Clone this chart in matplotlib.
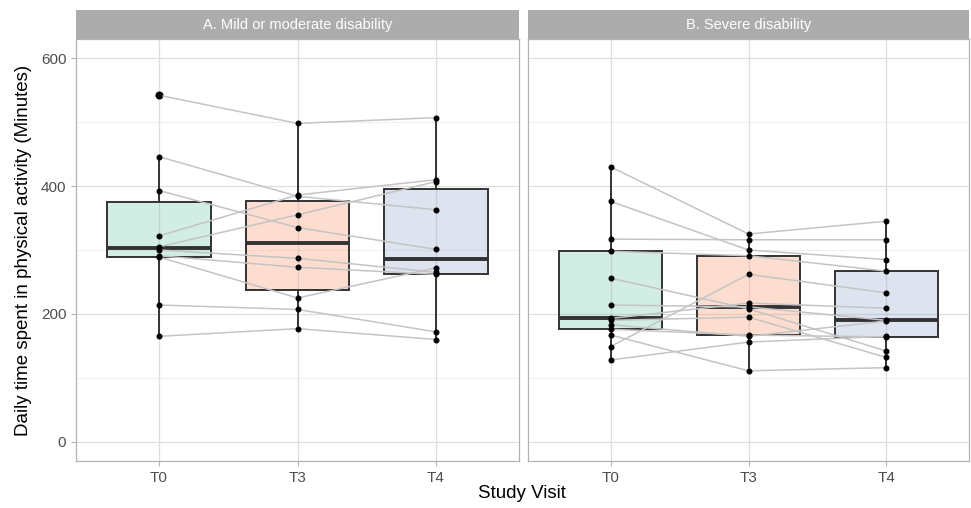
import numpy as np
import matplotlib
matplotlib.use('Agg')
from matplotlib import pyplot as plt
from matplotlib.patches import Rectangle

plt.rcParams['font.family'] = ['Liberation Sans', 'DejaVu Sans']

VISITS = ['T0', 'T3', 'T4']
PANELS = ['A. Mild or moderate disability', 'B. Severe disability']

# one row per subject: minutes at T0, T3, T4
MILD_T0 = [542, 446, 393, 322, 305, 300, 291, 289, 214, 165]
MILD_T3 = [498, 384, 335, 386, 355, 287, 273, 225, 207, 177]
MILD_T4 = [507, 363, 301, 410, 407, 265, 262, 272, 172, 160]

SEVERE_T0 = [430, 376, 317, 298, 256, 214, 193, 190, 183, 176, 167, 149, 128]
SEVERE_T3 = [325, 300, 316, 291, 208, 211, 217, 195, 165, 167, 111, 262, 156]
SEVERE_T4 = [345, 285, 316, 267, 142, 190, 209, 132, 189, 164, 116, 233, 165]

BOX_COLOURS = ['#66c2a5', '#fc8d62', '#8da0cb']
DARK = '#333333'


def draw_panel(ax, visits_data, title, show_y):
    pos = np.arange(1, len(VISITS) + 1)
    data = [np.array(v, dtype=float) for v in visits_data]

    # grid first
    for y in [100, 300, 500]:
        ax.axhline(y, color='#ececec', lw=0.6, zorder=0)
    for y in [0, 200, 400, 600]:
        ax.axhline(y, color='#dedede', lw=0.9, zorder=0)
    for x in pos:
        ax.axvline(x, color='#dedede', lw=0.9, zorder=0)

    bp = ax.boxplot(data, positions=pos, widths=0.75, patch_artist=True,
                    whis=1.5, zorder=2,
                    boxprops=dict(edgecolor=DARK, linewidth=1.4),
                    whiskerprops=dict(color=DARK, linewidth=1.4),
                    capprops=dict(linewidth=0),
                    medianprops=dict(color=DARK, linewidth=2.8),
                    flierprops=dict(marker='o', markerfacecolor='black',
                                    markeredgecolor='black', markersize=4.8))
    for patch, col in zip(bp['boxes'], BOX_COLOURS):
        patch.set_facecolor(matplotlib.colors.to_rgba(col, 0.29))

    # subject trajectories
    subj = np.column_stack(data)
    for row in subj:
        ax.plot(pos, row, color='#c4c4c4', lw=1.1, zorder=3)
    for x, v in zip(pos, data):
        ax.plot(np.full(len(v), x), v, 'o', color='black', ms=3.3, zorder=4)

    ax.set_xlim(0.4, 3.6)
    ax.set_ylim(-30, 630)
    ax.set_xticks(pos)
    ax.set_xticklabels(VISITS)
    ax.set_yticks([0, 200, 400, 600])
    if not show_y:
        ax.set_yticklabels([])
    ax.tick_params(colors='#b3b3b3', labelcolor='#4d4d4d', labelsize=11,
                   length=3.5, width=0.8)
    ax.tick_params(axis='y', left=show_y)
    for s in ax.spines.values():
        s.set_color('#b3b3b3')
        s.set_linewidth(0.9)

    strip_h = 29 / 422.0
    ax.add_patch(Rectangle((0, 1.0), 1, strip_h, transform=ax.transAxes,
                           facecolor='#acacac', edgecolor='none',
                           clip_on=False))
    ax.text(0.5, 1 + strip_h / 2, title, transform=ax.transAxes,
            ha='center', va='center', color='white', fontsize=10.5)


fig = plt.figure(figsize=(9.71, 5.08), dpi=100)
ax_a = fig.add_axes([76 / 971, 47 / 508, 443 / 971, 422 / 508])
ax_b = fig.add_axes([528 / 971, 47 / 508, 441 / 971, 422 / 508])

draw_panel(ax_a, [MILD_T0, MILD_T3, MILD_T4], PANELS[0], True)
draw_panel(ax_b, [SEVERE_T0, SEVERE_T3, SEVERE_T4], PANELS[1], False)

ax_a.set_ylabel('Daily time spent in physical activity (Minutes)',
                fontsize=13.5, labelpad=6)
fig.text(522 / 971, 14 / 508, 'Study Visit', ha='center', va='center',
         fontsize=13.5)

fig.savefig('out.png', dpi=100)
